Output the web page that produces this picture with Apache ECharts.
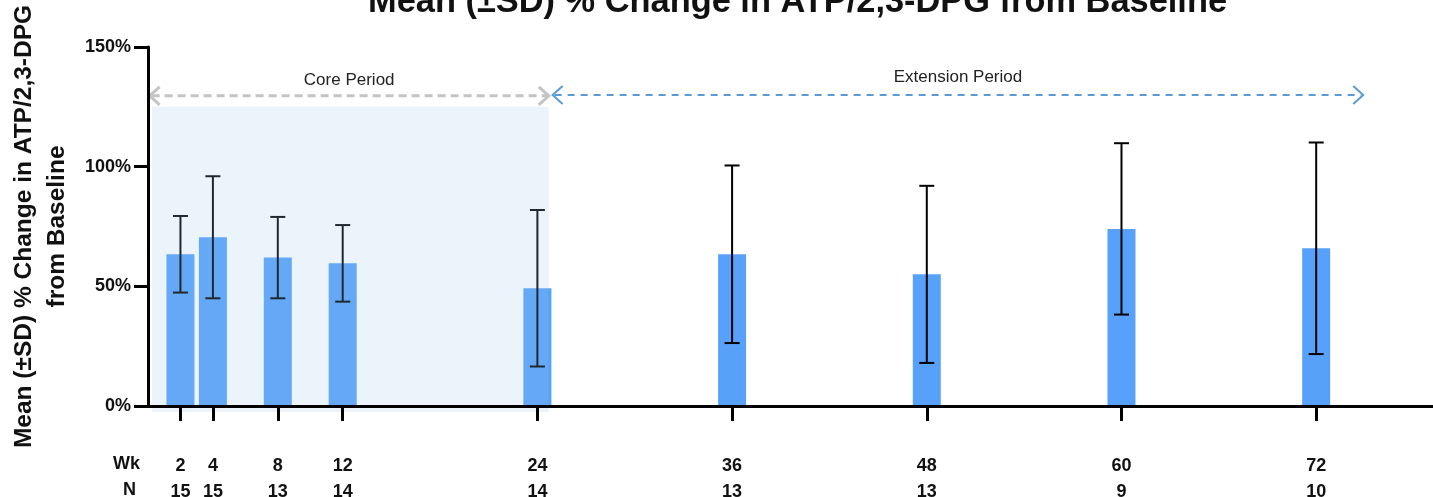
<!DOCTYPE html>
<html>
<head>
<meta charset="utf-8">
<script src="https://cdn.jsdelivr.net/npm/echarts@6/dist/echarts.min.js"></script>
<style>
html,body{margin:0;padding:0;background:#fff;}
#chart{width:1433px;height:497px;}
</style>
</head>
<body>
<div id="chart"></div>
<script>
// ---- data ----
const weeks = [2, 4, 8, 12, 24, 36, 48, 60, 72];
const nCounts = [15, 15, 13, 14, 14, 13, 13, 9, 10];
const meanPct = [63.4, 70.5, 62.0, 59.6, 49.2, 63.4, 55.0, 74.0, 65.9];
const sdPct = [16.0, 25.5, 17.0, 16.0, 32.7, 37.1, 37.0, 35.8, 44.2];
const yTicks = [0, 50, 100, 150];
const periodNames = ['Core Period', 'Extension Period'];
const periodStart = [0.1, 24.94];
const periodEnd = [24.7, 74.9];
const periodArrowY = [129.6, 129.9];
const periodLabelY = [136.0, 137.2];
const shadeX = [0.25, 24.7];
const shadeY = [-2.5, 125];

const FONT = "'Liberation Sans', Arial, Helvetica, sans-serif";
const chart = echarts.init(document.getElementById('chart'), null, {renderer: 'canvas'});

const barData = weeks.map((w, i) => [w, meanPct[i]]);
const errData = weeks.map((w, i) => [w, meanPct[i] - sdPct[i], meanPct[i] + sdPct[i]]);
const periodData = periodNames.map((n, i) => [periodStart[i], periodEnd[i], periodArrowY[i], periodLabelY[i]]);
const nByWeek = {};
weeks.forEach((w, i) => { nByWeek[w] = nCounts[i]; });

const option = {
  backgroundColor: '#fff',
  animation: false,
  title: {
    text: 'Mean (±SD) % Change in ATP/2,3-DPG from Baseline',
    left: 368, top: -14, padding: 0,
    textStyle: {fontFamily: FONT, fontSize: 34.4, fontWeight: 'bold', color: '#111'}
  },
  grid: {left: 148, right: 0, top: 47, bottom: 91, containLabel: false, outerBoundsMode: 'none'},
  xAxis: {
    type: 'value', min: 0, max: 79.2, z: 10,
    splitLine: {show: false},
    axisLine: {show: true, onZero: false, lineStyle: {color: '#000', width: 3}},
    axisTick: {show: true, customValues: weeks, length: 15, lineStyle: {color: '#000', width: 3}},
    axisLabel: {
      show: true, customValues: weeks, margin: 47,
      formatter: v => '{w|' + v + '}\n{n|' + nByWeek[v] + '}',
      rich: {
        w: {fontFamily: FONT, fontSize: 18, fontWeight: 'bold', color: '#111', lineHeight: 26},
        n: {fontFamily: FONT, fontSize: 18, fontWeight: 'bold', color: '#111', lineHeight: 26}
      }
    }
  },
  yAxis: {
    type: 'value', min: 0, max: 150, interval: 50, z: 10,
    splitLine: {show: false},
    axisLine: {show: true, lineStyle: {color: '#000', width: 3}},
    axisTick: {show: true, length: 14, lineStyle: {color: '#000', width: 3}},
    axisLabel: {formatter: '{value}%', margin: 17, fontFamily: FONT, fontSize: 18, fontWeight: 'bold', color: '#111'},
    name: 'Mean (±SD) % Change in ATP/2,3-DPG\nfrom Baseline',
    nameLocation: 'middle', nameRotate: 90, nameGap: 71,
    nameTextStyle: {fontFamily: FONT, fontSize: 24.5, fontWeight: 'bold', color: '#111', lineHeight: 33, align: 'center'}
  },
  graphic: [
    {type: 'text', left: 113, top: 455, style: {text: 'Wk', fontFamily: FONT, fontSize: 18, fontWeight: 'bold', fill: '#111'}},
    {type: 'text', left: 123, top: 481, style: {text: 'N', fontFamily: FONT, fontSize: 18, fontWeight: 'bold', fill: '#111'}}
  ],
  series: [
    {
      type: 'bar', data: barData, barWidth: 28, z: 2,
      itemStyle: {color: '#58A1FB'}
    },
    {
      type: 'custom', z: 3, data: errData,
      renderItem: function (params, api) {
        const x = api.value(0);
        const lo = api.coord([x, api.value(1)]);
        const hi = api.coord([x, api.value(2)]);
        const cap = 7.5;
        const st = {stroke: '#000', lineWidth: 2};
        return {type: 'group', children: [
          {type: 'line', shape: {x1: lo[0], y1: lo[1], x2: hi[0], y2: hi[1]}, style: st},
          {type: 'line', shape: {x1: lo[0] - cap, y1: lo[1], x2: lo[0] + cap, y2: lo[1]}, style: st},
          {type: 'line', shape: {x1: hi[0] - cap, y1: hi[1], x2: hi[0] + cap, y2: hi[1]}, style: st}
        ]};
      }
    },
    {
      type: 'custom', z: 5, clip: false, data: [[shadeX[0], shadeY[0], shadeX[1], shadeY[1]]],
      renderItem: function (params, api) {
        const a = api.coord([api.value(0), api.value(3)]);
        const b = api.coord([api.value(2), api.value(1)]);
        return {type: 'rect', shape: {x: a[0], y: a[1], width: b[0] - a[0], height: b[1] - a[1]},
          style: {fill: 'rgba(151,200,230,0.2)'}};
      }
    },
    {
      type: 'custom', z: 6, clip: false, data: periodData,
      renderItem: function (params, api) {
        const i = params.dataIndex;
        const x0 = api.value(0), x1 = api.value(1), y = api.value(2), ly = api.value(3);
        const p0 = api.coord([x0, y]);
        const p1 = api.coord([x1, y]);
        const lp = api.coord([(x0 + x1) / 2, ly]);
        const color = i === 0 ? '#C4C4C4' : '#5B9BD5';
        const lw = i === 0 ? 3 : 2;
        const ah = 10, av = 9;
        return {type: 'group', children: [
          {type: 'line', shape: {x1: p0[0] + 2, y1: p0[1], x2: p1[0] - 2, y2: p1[1]},
            style: {stroke: color, lineWidth: lw, lineDash: i === 0 ? [8, 5] : [7, 6]}},
          {type: 'polyline', shape: {points: [[p0[0] + ah, p0[1] - av], [p0[0], p0[1]], [p0[0] + ah, p0[1] + av]]},
            style: {stroke: color, lineWidth: lw, fill: null}},
          {type: 'polyline', shape: {points: [[p1[0] - ah, p1[1] - av], [p1[0], p1[1]], [p1[0] - ah, p1[1] + av]]},
            style: {stroke: color, lineWidth: lw, fill: null}},
          {type: 'text', x: lp[0], y: lp[1],
            style: {text: periodNames[i], fontFamily: FONT, fontSize: 17, fill: '#222', align: 'center', verticalAlign: 'middle'}}
        ]};
      }
    }
  ]
};
chart.setOption(option);
</script>
</body>
</html>
